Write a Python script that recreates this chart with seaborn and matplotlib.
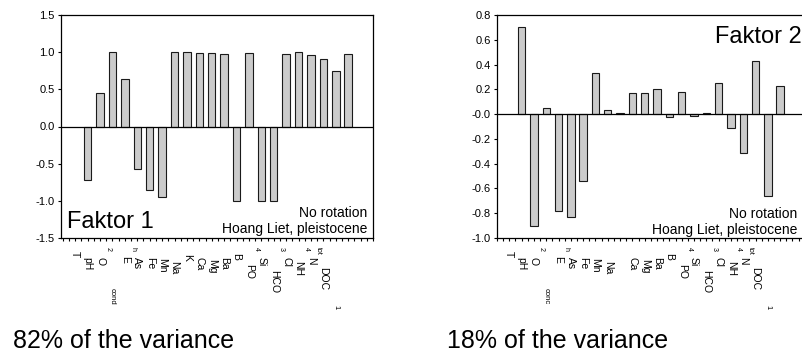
import numpy as np
import matplotlib
matplotlib.use("Agg")
import matplotlib.pyplot as plt
import seaborn as sns

# DATA
variables = ["T", "pH", "O2", "cond", "Eh", "As", "Fe", "Mn", "Na", "K", "Ca", "Mg",
             "Ba", "B", "PO4", "Si", "HCO3", "Cl", "NH4", "Ntot", "DOC", "1"]
faktor1 = [-0.72, 0.45, 1.00, 0.64, -0.57, -0.85, -0.95, 1.00, 1.00, 0.99, 0.99, 0.98,
           -1.00, 0.99, -1.00, -1.00, 0.97, 1.00, 0.96, 0.91, 0.75, 0.98]
faktor2 = [0.70, -0.90, 0.05, -0.78, -0.83, -0.54, 0.33, 0.03, 0.005, 0.17, 0.17, 0.20,
           -0.02, 0.175, -0.015, 0.005, 0.255, -0.11, -0.31, 0.43, -0.66, 0.225]

# tick labels as they come out of the original export (shifted one slot left)
labels1 = ["T", "pH", "O", "", "E", "As", "Fe", "Mn", "Na", "K", "Ca", "Mg",
           "Ba", "B", "PO", "Si", "HCO", "Cl", "NH", "N", "DOC", ""]
labels2 = ["T", "pH", "O", "", "E", "As", "Fe", "Mn", "Na", "", "Ca", "Mg",
           "Ba", "B", "PO", "Si", "HCO", "Cl", "NH", "N", "DOC", ""]
subs = {"O": "2", "E": "h", "PO": "4", "HCO": "3", "NH": "4", "N": "tot"}
far_labels1 = {3: "cond", 21: "1"}
far_labels2 = {3: "conc", 21: "1"}

titles = ["Faktor 1", "Faktor 2"]
variance = ["82% of the variance", "18% of the variance"]
note = "No rotation\nHoang Liet, pleistocene"

# LAYOUT (pixel drops below the axis for label tops)
drop = {"T": 13, "pH": 19, "O": 19, "E": 18, "As": 19, "Fe": 19, "Mn": 20, "Na": 23,
        "K": 16, "Ca": 19, "Mg": 21, "Ba": 19, "B": 15, "PO": 26, "Si": 19, "HCO": 32,
        "Cl": 19, "NH": 23, "N": 19, "DOC": 29}

sns.set_style("ticks")
plt.rcParams['font.family'] = ['Liberation Sans', 'DejaVu Sans']
plt.rcParams['text.color'] = 'black'
plt.rcParams['xtick.color'] = 'black'
plt.rcParams['ytick.color'] = 'black'
plt.rcParams['axes.labelcolor'] = 'black'

W, H = 803, 354
fig = plt.figure(figsize=(W / 100, H / 100), dpi=100)
PT = 0.72  # points per pixel


def fx(px):
    return px / W


def fy(py):
    return 1 - py / H


ax1 = fig.add_axes([fx(61), fy(238), 312 / W, 223 / H])
ax2 = fig.add_axes([fx(497), fy(238), 309 / W, 223 / H])


def draw(ax, values, labels, far, ylim, ystep, xlim):
    sns.barplot(x=variables, y=values, ax=ax, color='#cbcbcb', saturation=1,
                edgecolor='#1a1a1a', linewidth=0.8, width=0.6)
    ax.axhline(0, color='black', lw=0.9, zorder=3)
    ax.set_xlim(*xlim)
    ax.set_ylim(*ylim)
    ax.set_yticks(np.arange(ylim[0], ylim[1] + 1e-9, ystep))
    ax.yaxis.set_major_formatter(matplotlib.ticker.FormatStrFormatter('%.1f'))
    ax.set_xticks(np.arange(-2, 23.01, 0.5))
    ax.set_xticklabels([])
    ax.tick_params(axis='both', direction='out', length=2.5, width=0.8, color='black',
                   labelcolor='black', labelsize=8, pad=2)
    ax.set_xlabel("")
    ax.set_ylabel("")
    for s in ax.spines.values():
        s.set_visible(True)
        s.set_color('black')
        s.set_linewidth(0.9)

    for i, lab in enumerate(labels):
        pos = i - 1
        if lab:
            ax.annotate(lab, xy=(pos, 0), xycoords=('data', 'axes fraction'),
                        xytext=(0, -drop[lab] * PT), textcoords='offset points',
                        rotation=270, ha='center', va='top', fontsize=7.5)
            if lab in subs:
                ax.annotate(subs[lab], xy=(pos + 0.62, 0), xycoords=('data', 'axes fraction'),
                            xytext=(0, -9 * PT), textcoords='offset points',
                            rotation=270, ha='center', va='top', fontsize=5)
    for i, lab in far.items():
        ax.annotate(lab, xy=(i - 1, 0), xycoords=('data', 'axes fraction'),
                    xytext=(0, -50 * PT if lab != "1" else -67 * PT), textcoords='offset points',
                    rotation=270, ha='center', va='top', fontsize=5.5)


draw(ax1, faktor1, labels1, far_labels1, (-1.5, 1.5), 0.5, (-2.15, 22.95))
draw(ax2, faktor2, labels2, far_labels2, (-1.0, 0.8), 0.2, (-2.0, 23.1))

ax1.text((67 - 61) / 312, (238 - 228) / 223, titles[0], transform=ax1.transAxes,
         fontsize=17, ha='left', va='baseline')
ax2.text((715 - 497) / 309, (238 - 43) / 223, titles[1], transform=ax2.transAxes,
         fontsize=17, ha='left', va='baseline')

ax1.text((367 - 61) / 312, (238 - 233) / 223, note, transform=ax1.transAxes,
         fontsize=10, ha='right', va='baseline', ma='right', linespacing=1.15)
ax2.text((797 - 497) / 309, (238 - 234) / 223, note, transform=ax2.transAxes,
         fontsize=10, ha='right', va='baseline', ma='right', linespacing=1.15)

fig.text(fx(13), fy(348), variance[0], fontsize=18, ha='left', va='baseline')
fig.text(fx(447), fy(348), variance[1], fontsize=18, ha='left', va='baseline')

fig.savefig("out.png", dpi=100)
